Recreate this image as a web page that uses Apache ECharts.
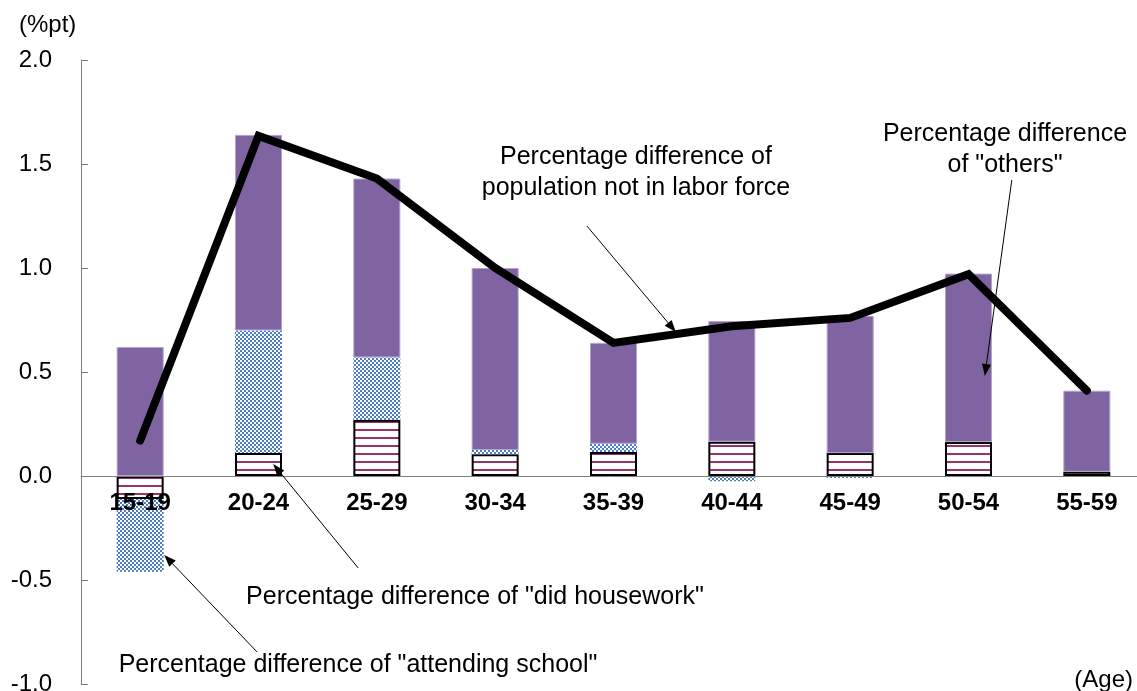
<!DOCTYPE html>
<html lang="en">
<head>
<meta charset="UTF-8">
<title>Percentage difference by age</title>
<style>
  html, body { margin: 0; padding: 0; background: #fff; }
  #main { width: 1137px; height: 691px; }
</style>
</head>
<body>
<div id="main"></div>
<script src="https://cdn.jsdelivr.net/npm/echarts@6/dist/echarts.min.js"></script>
<script>
// data (%pt)
var ageGroups = ['15-19', '20-24', '25-29', '30-34', '35-39', '40-44', '45-49', '50-54', '55-59'];
var houseworkDiff = [-0.11, 0.11, 0.27, 0.105, 0.115, 0.165, 0.11, 0.163, 0.02];
var schoolDiff = [-0.35, 0.59, 0.30, 0.02, 0.04, -0.025, -0.01, 0, 0];
var othersDiff = [0.62, 0.94, 0.86, 0.875, 0.485, 0.58, 0.66, 0.81, 0.39];
var notInLaborForceDiff = [0.17, 1.635, 1.43, 1.0, 0.64, 0.72, 0.76, 0.97, 0.41];
var yMin = -1.0, yMax = 2.0, yStep = 0.5;

// annotation arrows in data space: [category position, value]
var arrowNotes = [
  { from: [3.775, 1.202], to: [4.527, 0.692] },
  { from: [7.366, 1.423], to: [7.138, 0.481] },
  { from: [1.842, -0.442], to: [1.124, 0.058] },
  { from: [0.988, -0.846], to: [0.203, -0.380] }
];
var noteTexts = [
  { text: 'Percentage difference of\npopulation not in labor force', x: 636, y: 157 },
  { text: 'Percentage difference\nof "others"', x: 1005, y: 134 },
  { text: 'Percentage difference of "did housework"', x: 475, y: 597 },
  { text: 'Percentage difference of "attending school"', x: 358, y: 665 }
];

var FONT = '"Liberation Sans", Arial, sans-serif';
var gridTop = 60, gridHeight = 624;
// the category axis sits on the zero line
var zeroOffset = gridHeight * (0 - yMin) / (yMax - yMin);

function stripeTile() {
  var c = document.createElement('canvas');
  c.width = 8; c.height = 8;
  var g = c.getContext('2d');
  g.fillStyle = '#ffffff'; g.fillRect(0, 0, 8, 8);
  g.fillStyle = '#993366'; g.fillRect(0, 5, 8, 2);
  return c;
}
function checkerTile() {
  var c = document.createElement('canvas');
  c.width = 4; c.height = 4;
  var g = c.getContext('2d');
  g.fillStyle = '#4a7cc2'; g.fillRect(0, 0, 4, 4);
  g.fillStyle = '#ffffff';
  g.fillRect(0, 0, 2, 2);
  g.fillRect(2, 2, 2, 2);
  return c;
}

var chart = echarts.init(document.getElementById('main'));

var option = {
  backgroundColor: '#ffffff',
  animation: false,
  textStyle: { fontFamily: FONT },
  grid: { left: 81, top: gridTop, width: 1065, height: gridHeight, containLabel: false, outerBoundsMode: 'none' },
  xAxis: {
    type: 'category',
    data: ageGroups,
    z: 10,
    offset: -zeroOffset,
    axisLine: { onZero: false, lineStyle: { color: '#7f7f7f', width: 1 } },
    axisTick: { inside: true, length: 6, lineStyle: { color: '#7f7f7f' } },
    axisLabel: { color: '#000', fontSize: 24, fontWeight: 'bold', fontFamily: FONT, margin: 15 },
    splitLine: { show: false }
  },
  yAxis: {
    type: 'value',
    min: yMin, max: yMax, interval: yStep,
    axisLine: { show: true, lineStyle: { color: '#7f7f7f', width: 1 } },
    axisTick: { show: true, inside: true, length: 7, lineStyle: { color: '#7f7f7f' } },
    axisLabel: {
      color: '#000', fontSize: 24, fontFamily: FONT, margin: 29,
      formatter: function (v) { return v.toFixed(1); }
    },
    splitLine: { show: false }
  },
  series: [
    {
      name: 'did housework',
      type: 'bar',
      stack: 'diff',
      barWidth: 47,
      data: houseworkDiff,
      itemStyle: { color: { image: stripeTile(), repeat: 'repeat' }, borderColor: '#000', borderWidth: 2 }
    },
    {
      name: 'attending school',
      type: 'bar',
      stack: 'diff',
      barWidth: 47,
      data: schoolDiff,
      itemStyle: { color: { image: checkerTile(), repeat: 'repeat' } }
    },
    {
      name: 'others',
      type: 'bar',
      stack: 'diff',
      barWidth: 47,
      data: othersDiff,
      itemStyle: { color: '#8064a2', borderColor: '#b3a2c7', borderWidth: 1 }
    },
    {
      name: 'population not in labor force',
      type: 'line',
      z: 4,
      data: notInLaborForceDiff,
      symbol: 'none',
      lineStyle: { color: '#000', width: 8, cap: 'round', join: 'miter' }
    }
  ]
};

chart.setOption(option);

// map a fractional category position and a value to pixels through the axes
function toPx(pt) {
  var a = chart.convertToPixel({ gridIndex: 0 }, [0, pt[1]]);
  var b = chart.convertToPixel({ gridIndex: 0 }, [1, pt[1]]);
  return [a[0] + pt[0] * (b[0] - a[0]), a[1]];
}

var graphics = [];
arrowNotes.forEach(function (n) {
  var p1 = toPx(n.from), p2 = toPx(n.to);
  var dx = p2[0] - p1[0], dy = p2[1] - p1[1];
  var len = Math.sqrt(dx * dx + dy * dy);
  var ux = dx / len, uy = dy / len;
  var headLen = 12, headHalf = 4.5;
  var bx = p2[0] - ux * headLen, by = p2[1] - uy * headLen;
  graphics.push({
    type: 'line', z: 20,
    shape: { x1: p1[0], y1: p1[1], x2: bx, y2: by },
    style: { stroke: '#000', lineWidth: 1 }
  });
  graphics.push({
    type: 'polygon', z: 20,
    shape: { points: [[p2[0], p2[1]], [bx - uy * headHalf, by + ux * headHalf], [bx + uy * headHalf, by - ux * headHalf]] },
    style: { fill: '#000' }
  });
});
noteTexts.forEach(function (t) {
  graphics.push({
    type: 'text', z: 20,
    x: t.x, y: t.y - 15.5,
    style: { text: t.text, fill: '#000', font: '25px ' + FONT, align: 'center', verticalAlign: 'top', lineHeight: 31 }
  });
});
graphics.push({
  type: 'text', z: 20, x: 19, y: 25,
  style: { text: '(%pt)', fill: '#000', font: '24px ' + FONT, align: 'left', verticalAlign: 'middle' }
});
graphics.push({
  type: 'text', z: 20, x: 1133, y: 680,
  style: { text: '(Age)', fill: '#000', font: '24px ' + FONT, align: 'right', verticalAlign: 'middle' }
});

chart.setOption({ graphic: graphics });
</script>
</body>
</html>
